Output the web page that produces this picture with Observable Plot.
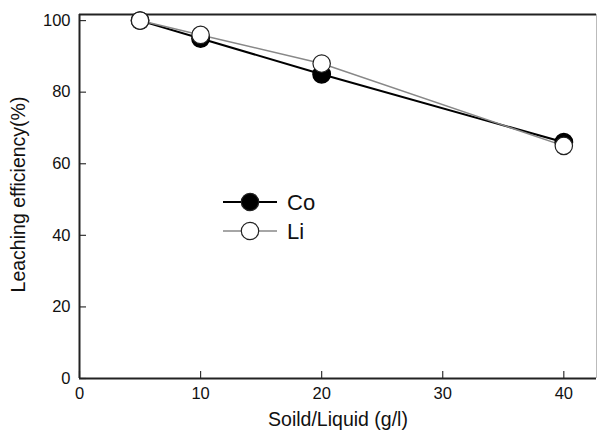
<!DOCTYPE html>
<html><head><meta charset="utf-8">
<script src="https://cdn.jsdelivr.net/npm/d3@7"></script>
<script src="https://cdn.jsdelivr.net/npm/@observablehq/plot@0.6"></script>
<style>body{margin:0;background:#fff;} #c{position:relative;width:597px;height:438px;}
#c svg g[aria-label$="tick label"] text{font-size:16.5px !important;}</style>
</head><body><div id="c"></div>
<script>
const ratio = [5, 10, 20, 40];
const co = [100, 95, 85, 66];
const li = [100, 96, 88, 65];
const xTicks = [0, 10, 20, 30, 40];
const yTicks = [0, 20, 40, 60, 80, 100];
const seriesNames = ["Co", "Li"];

const coData = ratio.map((x, i) => ({x, y: co[i]}));
const liData = ratio.map((x, i) => ({x, y: li[i]}));
const xMax = 42.7, yMax = 101.7;
const font = "Liberation Sans, Arial, Helvetica, sans-serif";

const chart = Plot.plot({
  width: 597, height: 438,
  marginLeft: 79, marginTop: 14, marginRight: 1, marginBottom: 60,
  style: {fontFamily: font, fontSize: "16px", color: "#111", background: "#fff"},
  x: {domain: [0, xMax]},
  y: {domain: [0, yMax]},
  marks: [
    Plot.ruleY([yMax], {stroke: "#222", strokeWidth: 2}),
    Plot.ruleX([xMax], {stroke: "#bbb", strokeWidth: 1}),
    Plot.axisX({ticks: xTicks, tickSize: 7, dy: -7, text: null, label: null, stroke: "#333", strokeWidth: 1.2}),
    Plot.axisY({ticks: yTicks, tickSize: 7, dx: 7, text: null, label: null, stroke: "#333", strokeWidth: 1.2}),
    Plot.axisX({ticks: xTicks, tickSize: 0, tickPadding: 9, tickFormat: d => d, label: null, fontSize: 16.5, fill: "#111"}),
    Plot.axisY({ticks: yTicks, tickSize: 0, tickPadding: 9, tickFormat: d => d, label: null, fontSize: 16.5, fill: "#111"}),
    Plot.ruleY([0], {stroke: "#222", strokeWidth: 2}),
    Plot.ruleX([0], {stroke: "#222", strokeWidth: 2}),
    Plot.line(coData, {x: "x", y: "y", stroke: "#000", strokeWidth: 2}),
    Plot.line(liData, {x: "x", y: "y", stroke: "#888", strokeWidth: 1.5}),
    Plot.dot(coData, {x: "x", y: "y", r: 8.7, fill: "#000", stroke: "#000"}),
    Plot.dot(liData, {x: "x", y: "y", r: 8.7, fill: "#fff", stroke: "#222", strokeWidth: 1.2}),
    // legend
    () => {
      const g = d3.create("svg:g");
      const specs = [
        {name: seriesNames[0], y: 202, lineColor: "#000", lw: 2, fill: "#000"},
        {name: seriesNames[1], y: 231, lineColor: "#888", lw: 1.5, fill: "#fff"}
      ];
      for (const s of specs) {
        g.append("line").attr("x1", 223).attr("x2", 277).attr("y1", s.y).attr("y2", s.y)
          .attr("stroke", s.lineColor).attr("stroke-width", s.lw);
        g.append("circle").attr("cx", 250).attr("cy", s.y).attr("r", 8.7)
          .attr("fill", s.fill).attr("stroke", "#222").attr("stroke-width", 1.2);
        g.append("text").attr("x", 287).attr("y", s.y).attr("dy", "0.36em")
          .attr("text-anchor", "start")
          .style("font-size", "22px").style("font-family", font).attr("fill", "#111").text(s.name);
      }
      return g.node();
    },
    Plot.text(["Soild/Liquid (g/l)"], {frameAnchor: "bottom", dy: 47, fontSize: 19.5, fill: "#111"}),
    Plot.text(["Leaching efficiency(%)"], {frameAnchor: "left", textAnchor: "middle", dx: -61, dy: -2, rotate: -90, fontSize: 19.5, fill: "#111"})
  ]
});
document.getElementById("c").appendChild(chart);
</script>
</body></html>
